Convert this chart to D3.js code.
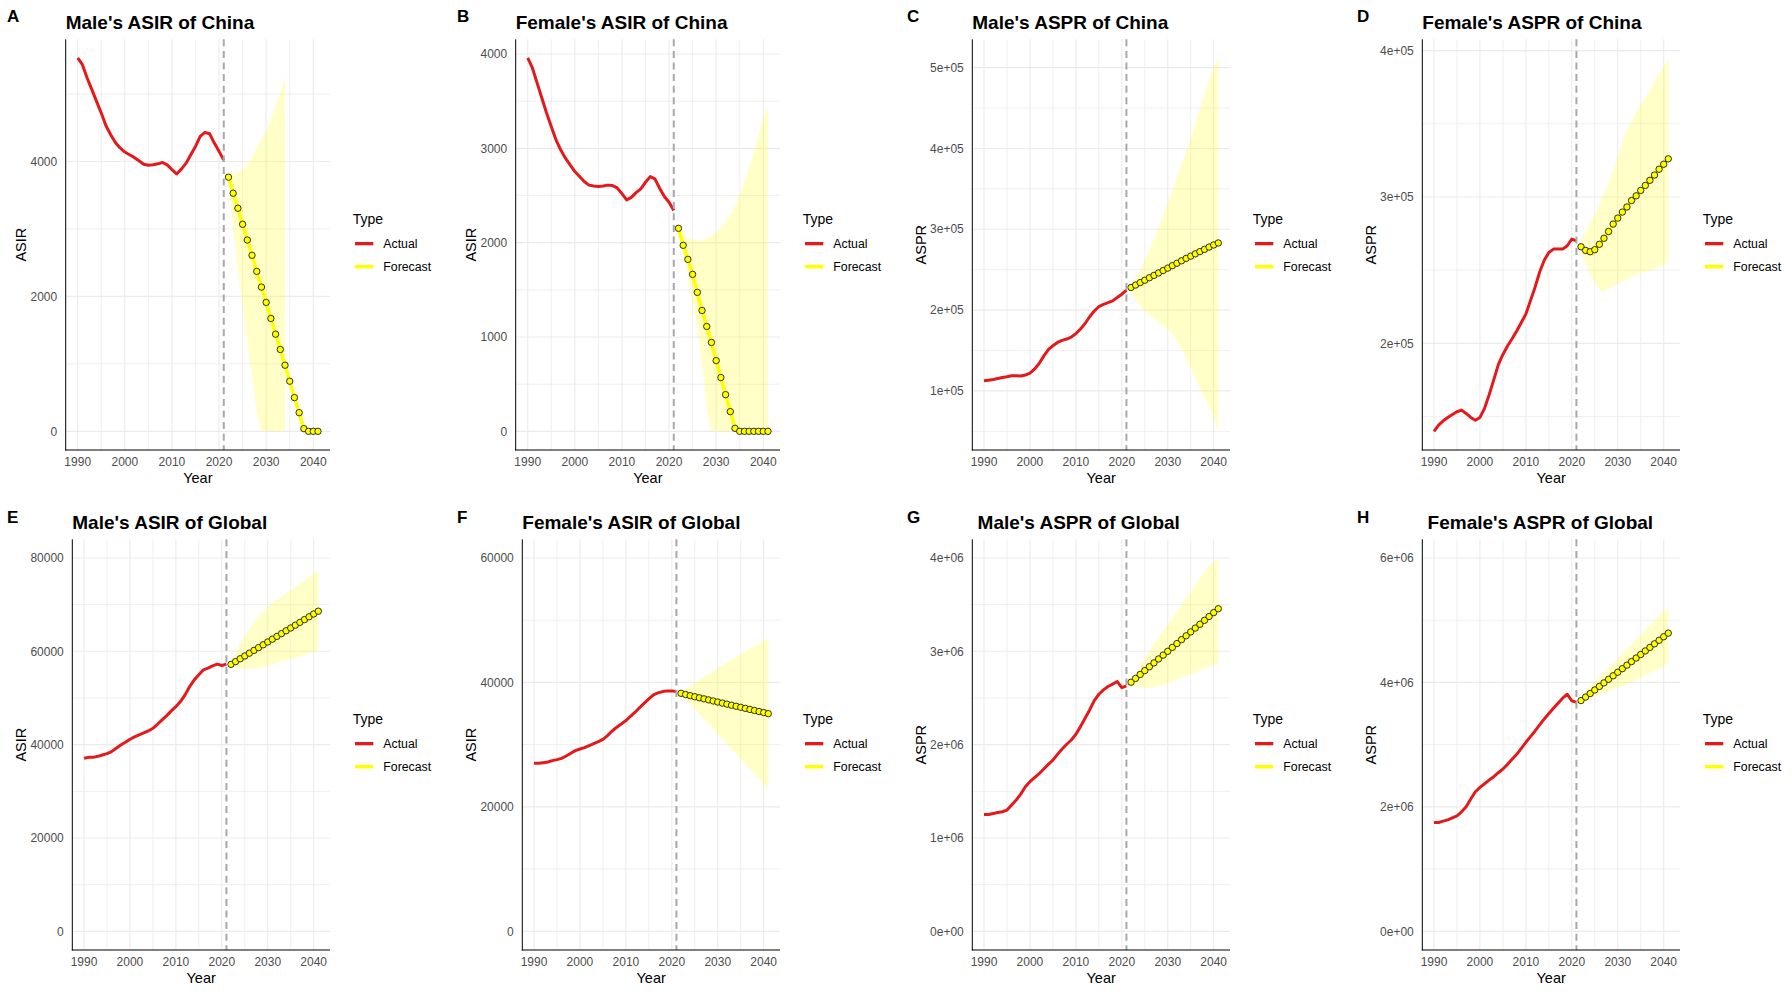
<!DOCTYPE html>
<html>
<head>
<meta charset="utf-8">
<script src="https://cdn.jsdelivr.net/npm/d3@7"></script>
<style>
  body { margin: 0; background: #ffffff; }
  text { font-family: "Liberation Sans", Arial, sans-serif; }
</style>
</head>
<body>
<svg id="chart" width="1792" height="992"></svg>
<script>
// ---------------- DATA ----------------
const actualYears = [1990,1991,1992,1993,1994,1995,1996,1997,1998,1999,2000,2001,2002,2003,2004,2005,2006,2007,2008,2009,2010,2011,2012,2013,2014,2015,2016,2017,2018,2019,2020,2021];
const forecastYears = [2022,2023,2024,2025,2026,2027,2028,2029,2030,2031,2032,2033,2034,2035,2036,2037,2038,2039,2040,2041];
const xTickValues = [1990,2000,2010,2020,2030,2040];
const vlineYear = 2021;
const legendLabels = ["Actual","Forecast"];
const legendTitle = "Type";
const xTitle = "Year";

// A: Male's ASIR of China
const maleAsirChinaActual = [5534,5435,5237,5064,4891,4717,4529,4396,4282,4200,4140,4100,4060,4010,3960,3945,3950,3965,3985,3950,3880,3815,3886,3975,4099,4222,4371,4430,4410,4272,4150,4020];
const maleAsirChinaForecast = [3767,3529,3307,3069,2836,2609,2371,2138,1911,1673,1440,1213,980,743,500,277,40,0,0,0];
const maleAsirChinaLower = [3700,3000,2400,1850,1300,800,300,0,0,0,0,0,0,null,null,null,null,null,null,null];
const maleAsirChinaUpper = [3800,3820,3840,3880,3950,4070,4200,4320,4450,4620,4820,5020,5262,null,null,null,null,null,null,null];
const maleAsirChinaTicks = [0,2000,4000];
const maleAsirChinaTickLabels = ["0","2000","4000"];

// B: Female's ASIR of China
const femaleAsirChinaActual = [3958,3852,3692,3533,3374,3232,3090,2984,2896,2825,2754,2701,2648,2610,2600,2595,2600,2610,2605,2580,2520,2453,2480,2530,2570,2640,2700,2676,2577,2489,2428,2340];
const femaleAsirChinaForecast = [2152,1972,1823,1664,1473,1281,1112,942,750,570,389,209,32,0,0,0,0,0,0,0];
const femaleAsirChinaLower = [2120,1900,1650,1380,1080,720,250,0,0,0,0,0,0,0,0,0,0,0,0,0];
const femaleAsirChinaUpper = [2150,2090,2050,2030,2020,2025,2045,2075,2110,2160,2220,2300,2390,2510,2650,2800,2970,3140,3320,3444];
const femaleAsirChinaTicks = [0,1000,2000,3000,4000];
const femaleAsirChinaTickLabels = ["0","1000","2000","3000","4000"];

// C: Male's ASPR of China
const maleAsprChinaActual = [112500,113300,114200,115400,116700,117500,118800,118800,118400,119600,122000,127000,134000,143000,151000,156000,160000,162600,164200,166700,170900,176700,183400,191800,198900,204300,207200,209300,211400,215500,219700,224700];
const maleAsprChinaForecast = [228000,231000,234000,237000,240000,243000,246000,249000,252000,255000,258000,261000,264000,266800,269600,272400,275200,278000,280600,283100];
const maleAsprChinaLower = [222000,212000,205000,199000,194000,189000,185000,181000,176000,170000,161000,151000,140000,128000,116000,104000,92000,80000,67000,50000];
const maleAsprChinaUpper = [230000,240000,250000,262000,275000,288000,302000,317000,332000,348000,364000,380000,397000,414000,431000,449000,467000,485000,500000,512000];
const maleAsprChinaTicks = [100000,200000,300000,400000,500000];
const maleAsprChinaTickLabels = ["1e+05","2e+05","3e+05","4e+05","5e+05"];

// D: Female's ASPR of China
const femaleAsprChinaActual = [139900,144100,147100,149400,151400,153300,154400,152100,149400,147500,149400,155600,164800,175100,185500,192400,198200,203200,208500,214300,220000,229200,238400,248800,256800,262100,264400,264400,264400,266700,271300,270000];
const femaleAsprChinaForecast = [266000,263500,262600,264000,267700,271800,276400,281500,285600,289700,293200,297600,300800,304500,307900,311400,315000,319000,322400,326100];
const femaleAsprChinaLower = [262000,254000,247000,241000,237000,235500,237000,239000,241000,242500,244000,245500,247000,248000,249000,250000,251000,252000,253500,255000];
const femaleAsprChinaUpper = [270000,276000,282000,288000,295000,302000,309000,318000,327000,338000,346000,352000,358000,363000,368000,373000,379000,384000,389000,395000];
const femaleAsprChinaTicks = [200000,300000,400000];
const femaleAsprChinaTickLabels = ["2e+05","3e+05","4e+05"];

// E: Male's ASIR of Global
const maleAsirGlobalActual = [37070,37280,37280,37500,37780,38070,38500,39210,39930,40500,41150,41650,42080,42500,42940,43510,44370,45300,46230,47230,48160,49230,50660,52450,53880,54960,56030,56390,56890,57250,56960,57250];
const maleAsirGlobalForecast = [57200,57800,58400,59000,59600,60200,60800,61400,62000,62600,63200,63800,64400,65000,65600,66200,66800,67400,68000,68600];
const maleAsirGlobalLower = [57000,56600,56300,56200,56200,56300,56500,56700,56900,57200,57500,57800,58100,58400,58700,59000,59300,59600,59900,60200];
const maleAsirGlobalUpper = [57500,59500,61500,63300,64800,66200,67500,68600,69500,70300,71000,71700,72400,73100,73800,74500,75200,75900,76600,77300];
const maleAsirGlobalTicks = [0,20000,40000,60000,80000];
const maleAsirGlobalTickLabels = ["0","20000","40000","60000","80000"];
const maleAsirGlobalLimits = [0,80000];

// F: Female's ASIR of Global
const femaleAsirGlobalActual = [27000,27000,27100,27210,27430,27590,27800,28180,28610,29040,29300,29520,29840,30160,30480,30860,31450,32200,32790,33330,33870,34560,35210,35960,36660,37350,38000,38320,38530,38640,38640,38530];
const femaleAsirGlobalForecast = [38250,38050,37870,37700,37530,37360,37190,37020,36850,36680,36510,36340,36170,36000,35830,35660,35490,35320,35150,34980];
const femaleAsirGlobalLower = [38100,37300,36500,35700,34900,34100,33300,32500,31700,30900,30100,29300,28500,27700,26900,26100,25300,24500,23600,22700];
const femaleAsirGlobalUpper = [38400,38900,39400,39900,40400,40900,41400,41800,42300,42700,43200,43600,44100,44500,45000,45400,45800,46300,46700,47100];
const femaleAsirGlobalTicks = [0,20000,40000,60000];
const femaleAsirGlobalTickLabels = ["0","20000","40000","60000"];
const femaleAsirGlobalLimits = [0,60000];

// G: Male's ASPR of Global
const maleAsprGlobalActual = [1252000,1252000,1263000,1274000,1281000,1299000,1352000,1406000,1470000,1549000,1603000,1646000,1689000,1739000,1789000,1835000,1896000,1953000,2004000,2050000,2111000,2193000,2283000,2372000,2472000,2540000,2587000,2623000,2648000,2676000,2610000,2630000];
const maleAsprGlobalForecast = [2669000,2710000,2752000,2793000,2835000,2876000,2918000,2959000,3000000,3042000,3083000,3125000,3166000,3208000,3249000,3290000,3332000,3373000,3415000,3456000];
const maleAsprGlobalLower = [2640000,2625000,2615000,2610000,2610000,2615000,2625000,2640000,2655000,2675000,2695000,2715000,2735000,2755000,2775000,2795000,2815000,2835000,2855000,2875000];
const maleAsprGlobalUpper = [2690000,2760000,2840000,2920000,3000000,3080000,3150000,3220000,3290000,3360000,3430000,3500000,3570000,3640000,3710000,3780000,3850000,3920000,3960000,3990000];
const maleAsprGlobalTicks = [0,1000000,2000000,3000000,4000000];
const maleAsprGlobalTickLabels = ["0e+00","1e+06","2e+06","3e+06","4e+06"];
const maleAsprGlobalLimits = [0,4000000];

// H: Female's ASPR of Global
const femaleAsprGlobalActual = [1750000,1750000,1771000,1792000,1825000,1857000,1921000,2002000,2125000,2243000,2313000,2372000,2431000,2485000,2549000,2608000,2683000,2764000,2844000,2941000,3038000,3129000,3220000,3317000,3413000,3499000,3585000,3665000,3746000,3810000,3703000,3682000];
const femaleAsprGlobalForecast = [3708000,3765000,3822000,3879000,3936000,3993000,4050000,4107000,4164000,4221000,4278000,4335000,4392000,4449000,4506000,4563000,4620000,4677000,4734000,4792000];
const femaleAsprGlobalLower = [3680000,3710000,3740000,3770000,3800000,3830000,3860000,3890000,3920000,3950000,3980000,4010000,4040000,4080000,4110000,4150000,4180000,4220000,4260000,4310000];
const femaleAsprGlobalUpper = [3740000,3840000,3930000,4010000,4090000,4160000,4230000,4310000,4380000,4460000,4530000,4610000,4690000,4770000,4840000,4920000,4990000,5070000,5150000,5220000];
const femaleAsprGlobalTicks = [0,2000000,4000000,6000000];
const femaleAsprGlobalTickLabels = ["0e+00","2e+06","4e+06","6e+06"];
const femaleAsprGlobalLimits = [0,6000000];

// ---------------- PANEL TABLE ----------------
const panels = [
  {letter:"A", title:"Male's ASIR of China", yTitle:"ASIR", actual:maleAsirChinaActual, forecast:maleAsirChinaForecast, lower:maleAsirChinaLower, upper:maleAsirChinaUpper, ticks:maleAsirChinaTicks, tickLabels:maleAsirChinaTickLabels, limits:null, cellX:0, left:65.7, right:330, row:0},
  {letter:"B", title:"Female's ASIR of China", yTitle:"ASIR", actual:femaleAsirChinaActual, forecast:femaleAsirChinaForecast, lower:femaleAsirChinaLower, upper:femaleAsirChinaUpper, ticks:femaleAsirChinaTicks, tickLabels:femaleAsirChinaTickLabels, limits:null, cellX:450, left:515.7, right:780, row:0},
  {letter:"C", title:"Male's ASPR of China", yTitle:"ASPR", actual:maleAsprChinaActual, forecast:maleAsprChinaForecast, lower:maleAsprChinaLower, upper:maleAsprChinaUpper, ticks:maleAsprChinaTicks, tickLabels:maleAsprChinaTickLabels, limits:null, cellX:900, left:972.3, right:1230, row:0},
  {letter:"D", title:"Female's ASPR of China", yTitle:"ASPR", actual:femaleAsprChinaActual, forecast:femaleAsprChinaForecast, lower:femaleAsprChinaLower, upper:femaleAsprChinaUpper, ticks:femaleAsprChinaTicks, tickLabels:femaleAsprChinaTickLabels, limits:null, cellX:1350, left:1422.3, right:1680, row:0},
  {letter:"E", title:"Male's ASIR of Global", yTitle:"ASIR", actual:maleAsirGlobalActual, forecast:maleAsirGlobalForecast, lower:maleAsirGlobalLower, upper:maleAsirGlobalUpper, ticks:maleAsirGlobalTicks, tickLabels:maleAsirGlobalTickLabels, limits:maleAsirGlobalLimits, cellX:0, left:72.3, right:330, row:1},
  {letter:"F", title:"Female's ASIR of Global", yTitle:"ASIR", actual:femaleAsirGlobalActual, forecast:femaleAsirGlobalForecast, lower:femaleAsirGlobalLower, upper:femaleAsirGlobalUpper, ticks:femaleAsirGlobalTicks, tickLabels:femaleAsirGlobalTickLabels, limits:femaleAsirGlobalLimits, cellX:450, left:522.3, right:780, row:1},
  {letter:"G", title:" Male's ASPR of Global", yTitle:"ASPR", actual:maleAsprGlobalActual, forecast:maleAsprGlobalForecast, lower:maleAsprGlobalLower, upper:maleAsprGlobalUpper, ticks:maleAsprGlobalTicks, tickLabels:maleAsprGlobalTickLabels, limits:maleAsprGlobalLimits, cellX:900, left:972.3, right:1230, row:1},
  {letter:"H", title:" Female's ASPR of Global", yTitle:"ASPR", actual:femaleAsprGlobalActual, forecast:femaleAsprGlobalForecast, lower:femaleAsprGlobalLower, upper:femaleAsprGlobalUpper, ticks:femaleAsprGlobalTicks, tickLabels:femaleAsprGlobalTickLabels, limits:femaleAsprGlobalLimits, cellX:1350, left:1422.3, right:1680, row:1}
];

// ---------------- STYLE / LAYOUT ----------------
const rows = [
  {top:39.3, bottom:450, titleY:29, letterY:22},
  {top:539.3, bottom:950, titleY:529.3, letterY:522.7}
];
const RED = "#E3191C";
const YEL = "#FFFF00";
const GRID = "#EBEBEB";

const svg = d3.select("#chart");

function expand(lo, hi) {
  const d = (hi - lo) * 0.05;
  return [lo - d, hi + d];
}
function minorBreaks(major, domain) {
  const step = major[1] - major[0];
  const out = [];
  for (let v = major[0] - step / 2; v <= major[major.length - 1] + step / 2 + 1e-9; v += step) {
    if (v >= domain[0] && v <= domain[1]) out.push(v);
  }
  return out;
}

panels.forEach(p => {
  const r = rows[p.row];
  const g = svg.append("g");

  const xDom = expand(d3.min(actualYears), d3.max(forecastYears));
  const x = d3.scaleLinear().domain(xDom).range([p.left, p.right]);

  let yDom;
  if (p.limits) {
    yDom = expand(p.limits[0], p.limits[1]);
  } else {
    const all = [].concat(p.actual, p.forecast, p.lower, p.upper).filter(v => v != null);
    yDom = expand(d3.min(all), d3.max(all));
  }
  const y = d3.scaleLinear().domain(yDom).range([r.bottom, r.top]);

  // grid: minor
  const xMinor = minorBreaks(xTickValues, xDom);
  const yMinor = minorBreaks(p.ticks, yDom);
  g.selectAll(".gxm").data(xMinor).enter().append("line")
    .attr("x1", d => x(d)).attr("x2", d => x(d)).attr("y1", r.top).attr("y2", r.bottom)
    .attr("stroke", GRID).attr("stroke-width", 0.8);
  g.selectAll(".gym").data(yMinor).enter().append("line")
    .attr("x1", p.left).attr("x2", p.right).attr("y1", d => y(d)).attr("y2", d => y(d))
    .attr("stroke", GRID).attr("stroke-width", 0.8);
  // grid: major
  g.selectAll(".gx").data(xTickValues).enter().append("line")
    .attr("x1", d => x(d)).attr("x2", d => x(d)).attr("y1", r.top).attr("y2", r.bottom)
    .attr("stroke", GRID).attr("stroke-width", 1.1);
  g.selectAll(".gy").data(p.ticks).enter().append("line")
    .attr("x1", p.left).attr("x2", p.right).attr("y1", d => y(d)).attr("y2", d => y(d))
    .attr("stroke", GRID).attr("stroke-width", 1.1);

  // ribbon
  const band = forecastYears.map((yr, i) => ({yr, lo: p.lower[i], hi: p.upper[i]}));
  const area = d3.area()
    .defined(d => d.lo != null && d.hi != null)
    .x(d => x(d.yr)).y0(d => y(d.lo)).y1(d => y(d.hi));
  g.append("path").datum(band).attr("d", area)
    .attr("fill", YEL).attr("fill-opacity", 0.22).attr("stroke", "none");

  // actual line
  const act = actualYears.map((yr, i) => ({yr, v: p.actual[i]}));
  const line = d3.line().x(d => x(d.yr)).y(d => y(d.v));
  g.append("path").datum(act).attr("d", line)
    .attr("fill", "none").attr("stroke", RED).attr("stroke-width", 3)
    .attr("stroke-linejoin", "round");

  // forecast line + points
  const fc = forecastYears.map((yr, i) => ({yr, v: p.forecast[i]}));
  g.append("path").datum(fc).attr("d", line)
    .attr("fill", "none").attr("stroke", YEL).attr("stroke-width", 3.6)
    .attr("stroke-linejoin", "round");
  g.selectAll(".pt").data(fc).enter().append("circle")
    .attr("cx", d => x(d.yr)).attr("cy", d => y(d.v)).attr("r", 3.2)
    .attr("fill", YEL).attr("stroke", "#000").attr("stroke-width", 0.8);

  // dashed vline
  g.append("line")
    .attr("x1", x(vlineYear)).attr("x2", x(vlineYear)).attr("y1", r.top).attr("y2", r.bottom)
    .attr("stroke", "#A8A8A8").attr("stroke-width", 2).attr("stroke-dasharray", "7,4.6");

  // axis lines
  g.append("line").attr("x1", p.left).attr("x2", p.left).attr("y1", r.top).attr("y2", r.bottom + 0.5)
    .attr("stroke", "#000").attr("stroke-width", 1);
  g.append("line").attr("x1", p.left - 0.5).attr("x2", p.right).attr("y1", r.bottom).attr("y2", r.bottom)
    .attr("stroke", "#000").attr("stroke-width", 1);

  // x tick labels
  g.selectAll(".xl").data(xTickValues).enter().append("text")
    .attr("x", d => x(d)).attr("y", r.bottom + 16)
    .attr("text-anchor", "middle").attr("font-size", 12).attr("fill", "#4D4D4D")
    .text(d => String(d));

  // y tick labels
  const yl = g.selectAll(".yl").data(p.ticks).enter().append("text")
    .attr("x", p.left - 8.5).attr("y", d => y(d)).attr("dy", "0.35em")
    .attr("text-anchor", "end").attr("font-size", 12).attr("fill", "#4D4D4D")
    .text((d, i) => p.tickLabels[i]);
  let minX = Infinity;
  yl.each(function() { const b = this.getBBox(); if (b.x < minX) minX = b.x; });

  // axis titles
  const cy = (r.top + r.bottom) / 2;
  g.append("text")
    .attr("transform", `translate(${minX - 4},${cy}) rotate(-90)`)
    .attr("text-anchor", "middle").attr("font-size", 14.5).attr("fill", "#000")
    .text(p.yTitle);
  g.append("text")
    .attr("x", (p.left + p.right) / 2).attr("y", r.bottom + 33.3)
    .attr("text-anchor", "middle").attr("font-size", 14.5).attr("fill", "#000")
    .text(xTitle);

  // title + letter
  g.append("text")
    .attr("x", p.left).attr("y", r.titleY)
    .attr("font-size", 19).attr("font-weight", "bold").attr("fill", "#000")
    .attr("xml:space", "preserve").style("white-space", "pre")
    .text(p.title);
  g.append("text")
    .attr("x", p.cellX + 7).attr("y", r.letterY)
    .attr("font-size", 17).attr("font-weight", "bold").attr("fill", "#000")
    .text(p.letter);

  // legend
  const lx = p.right;
  g.append("text").attr("x", lx + 22.7).attr("y", cy - 20.3)
    .attr("font-size", 14).attr("fill", "#000").text(legendTitle);
  const keyColors = [RED, YEL];
  const keyWidths = [3.3, 3.6];
  legendLabels.forEach((lab, i) => {
    const ky = cy - 1 + i * 23;
    g.append("line").attr("x1", lx + 25).attr("x2", lx + 43.3).attr("y1", ky).attr("y2", ky)
      .attr("stroke", keyColors[i]).attr("stroke-width", keyWidths[i]);
    g.append("text").attr("x", lx + 53.3).attr("y", ky).attr("dy", "0.35em")
      .attr("font-size", 12.3).attr("fill", "#000").text(lab);
  });
});
</script>
</body>
</html>
